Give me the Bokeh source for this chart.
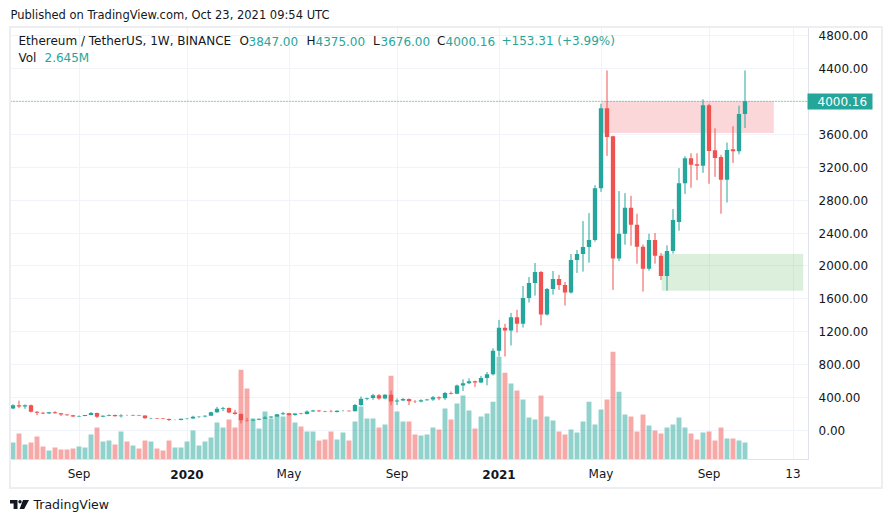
from bokeh.plotting import figure
from bokeh.models import (Range1d, FixedTicker, Span, Label, BoxAnnotation, Title,
                          ColumnDataSource, PrintfTickFormatter, LinearAxis)
from bokeh.embed import file_html
from bokeh.resources import INLINE

# ---------------- data (weekly ETH/USDT, Binance, from week of 2019-06-17) -------------
opens = [269, 307, 291, 307, 228, 216, 207, 222, 211, 195,
         186, 172, 178, 188, 212, 168, 180, 190, 174, 184,
         183, 189, 184, 151, 152, 147, 142, 128, 129, 144,
         146, 168, 170, 180, 223, 264, 273, 218, 200, 124,
         122, 131, 143, 158, 170, 197, 211, 188, 207, 200,
         231, 245, 234, 229, 225, 241, 242, 236, 312, 386,
         395, 428, 390, 435, 353, 365, 385, 355, 352, 369,
         378, 406, 394, 455, 447, 549, 575, 600, 583, 640,
         685, 970, 1250, 1216, 1378, 1297, 1612, 1794, 1927, 1410,
         1721, 1842, 1770, 1677, 2073, 2145, 2230, 2315, 2945, 3915,
         3575, 2089, 2392, 2707, 2501, 2234, 1967, 2315, 2125, 1879,
         2182, 2533, 3006, 3309, 3236, 3216, 3951, 3406, 3325, 3046,
         3418, 3394, 3847.00]
highs = [320, 364, 318, 317, 236, 227, 226, 236, 215, 199,
         191, 184, 190, 225, 218, 184, 197, 194, 198, 192,
         194, 191, 185, 156, 153, 152, 146, 135, 146, 151,
         180, 175, 185, 229, 288, 288, 281, 253, 209, 153,
         143, 145, 176, 173, 198, 227, 215, 210, 215, 245,
         252, 250, 240, 250, 245, 250, 246, 324, 415, 400,
         446, 445, 442, 488, 390, 395, 390, 370, 380, 385,
         420, 415, 470, 475, 558, 622, 635, 608, 665, 711,
         1000, 1345, 1297, 1430, 1467, 1757, 1866, 2036, 1940, 1733,
         1939, 1891, 1806, 2145, 2194, 2545, 2642, 2981, 3971, 4375,
         3583, 2909, 2885, 2852, 2634, 2260, 2392, 2400, 2157, 2250,
         2691, 3188, 3333, 3369, 3369, 4024, 3970, 3672, 3350, 3499,
         3697, 3947, 4375.00]
lows = [261, 272, 265, 220, 186, 200, 205, 205, 176, 181,
        165, 167, 174, 186, 153, 162, 175, 171, 159, 178,
        180, 179, 145, 139, 142, 140, 116, 125, 125, 135,
        143, 155, 160, 180, 215, 237, 210, 193, 87, 108,
        117, 125, 141, 150, 167, 192, 182, 180, 196, 195,
        228, 225, 224, 222, 220, 233, 232, 233, 300, 369,
        373, 375, 380, 308, 310, 360, 310, 335, 343, 364,
        360, 370, 373, 440, 442, 480, 565, 530, 577, 550,
        670, 900, 900, 1034, 1192, 1252, 1555, 1640, 1277, 1398,
        1652, 1709, 1519, 1664, 1915, 1931, 2040, 2295, 2900, 3337,
        1709, 2060, 2258, 2246, 2028, 1689, 1943, 2028, 1830, 1700,
        2150, 2428, 2876, 2950, 3042, 3131, 2998, 3083, 2634, 2771,
        3252, 3357, 3676.00]
closes = [307, 291, 307, 228, 216, 207, 222, 211, 195, 186,
          172, 178, 188, 212, 168, 180, 190, 174, 184, 183,
          189, 184, 151, 152, 147, 142, 128, 129, 144, 146,
          168, 170, 180, 223, 264, 273, 218, 200, 124, 122,
          131, 143, 158, 170, 197, 211, 188, 207, 200, 231,
          245, 234, 229, 225, 241, 242, 236, 312, 386, 395,
          428, 390, 435, 353, 365, 385, 355, 352, 369, 378,
          406, 394, 455, 447, 549, 575, 600, 583, 640, 685,
          970, 1250, 1216, 1378, 1297, 1612, 1794, 1927, 1410, 1721,
          1842, 1770, 1677, 2073, 2145, 2230, 2315, 2945, 3915, 3567,
          2089, 2392, 2707, 2501, 2234, 1967, 2315, 2125, 1879, 2182,
          2557, 3006, 3309, 3228, 3216, 3951, 3398, 3313, 3046, 3410,
          3394, 3846.85, 4000.16]
volumes_m = [2.645, 4.05, 2.33, 2.65, 3.58, 2.02, 1.40, 1.87, 1.56, 1.56,
             1.71, 2.02, 1.87, 3.89, 4.98, 2.80, 2.96, 2.33, 4.36, 2.80,
             2.18, 1.71, 2.96, 2.80, 1.71, 1.40, 2.96, 1.87, 1.87, 2.80,
             4.51, 2.18, 2.80, 3.42, 5.76, 4.98, 6.22, 4.98, 14.00, 11.05,
             6.38, 4.82, 7.47, 6.38, 6.85, 6.69, 7.16, 5.76, 5.13, 4.36,
             4.36, 2.96, 3.11, 4.36, 3.11, 4.20, 2.96, 5.91, 8.25, 6.38,
             6.38, 4.98, 5.45, 13.07, 7.47, 5.91, 5.91, 3.89, 3.73, 3.89,
             4.98, 4.67, 7.94, 6.22, 8.71, 9.96, 7.62, 4.82, 6.69, 7.16,
             9.02, 16.03, 13.54, 11.83, 10.74, 9.34, 6.54, 6.22, 9.96, 6.69,
             6.07, 4.36, 3.89, 4.67, 4.20, 5.91, 9.02, 5.45, 7.78, 9.34,
             16.80, 10.58, 7.00, 6.69, 4.36, 7.00, 5.29, 4.51, 4.05, 4.98,
             5.45, 6.54, 4.98, 4.05, 3.11, 4.20, 4.36, 2.96, 4.98, 3.27,
             3.27, 2.96, 2.645]

# time axis: week index of each label
time_tick_weeks = [11, 29, 46, 64, 81, 98, 116, 130]
time_tick_labels = ["Sep", "2020", "May", "Sep", "2021", "May", "Sep", "13"]
year_labels = ["2020", "2021"]
price_ticks = [0, 400, 800, 1200, 1600, 2000, 2400, 2800, 3200, 3600, 4000, 4400, 4800]

# drawn zones (week index / price bounds)
supply_zone = [98.1, 126.8, 3615, 4000]   # left, right, bottom, top
demand_zone = [108.1, 131.7, 1700, 2145]

# ---------------- styling ----------------
UP = "#26a69a"
DOWN = "#ef5350"
TXT = "#131722"
GRID = "#f0f3fa"
BORDER = "#e0e3eb"
FONT = "DejaVu Sans"

FL, FR, FT, FB = 10, 808, 27, 460
W, H = 892, 523

n = len(opens)
weeks = list(range(n))
colors = [UP if c >= o else DOWN for o, c in zip(opens, closes)]
src = ColumnDataSource(dict(
    x=weeks, high=highs, low=lows,
    top=[max(o, c) for o, c in zip(opens, closes)],
    bottom=[min(o, c) for o, c in zip(opens, closes)],
    color=colors, vol=volumes_m))

X0, X1 = -0.4167, 132.5833
Y0, Y1 = -351.5, 4897
p = figure(width=W, height=H,
           x_range=Range1d(X0, X1), y_range=Range1d(Y0, Y1),
           y_axis_location="right", output_backend="svg", toolbar_location=None,
           min_border_left=FL, min_border_right=W - FR, min_border_top=FT,
           min_border_bottom=H - FB,
           background_fill_color="white", border_fill_color="white",
           outline_line_color=BORDER)
p.extra_y_ranges = {"vol": Range1d(0, 67.34)}

# header title
p.title.text = "Published on TradingView.com, Oct 23, 2021 09:54 UTC"
p.title.align = "left"
p.title.vertical_align = "middle"
p.title.text_font = FONT
p.title.text_font_size = "11.5px"
p.title.text_font_style = "normal"
p.title.text_color = TXT
try:
    p.title.standoff = 10
except Exception:
    pass

# grids
p.xgrid.ticker = FixedTicker(ticks=time_tick_weeks)
p.ygrid.ticker = FixedTicker(ticks=price_ticks)
p.grid.grid_line_color = GRID
p.grid.grid_line_width = 1

# zones (under the candles)
for z, col in ((supply_zone, "#f23645"), (demand_zone, "#4caf50")):
    p.add_layout(BoxAnnotation(left=z[0], right=z[1], bottom=z[2], top=z[3],
                               fill_color=col, fill_alpha=0.2, line_color=None,
                               level="underlay"))

# volume
p.vbar(x="x", width=0.82, top="vol", bottom=0, y_range_name="vol",
       fill_color="color", fill_alpha=0.5, line_color=None, source=src)
# candles
p.segment(x0="x", y0="low", x1="x", y1="high", line_color="color", line_width=1, source=src)
p.vbar(x="x", width=0.72, top="top", bottom="bottom", fill_color="color",
       line_color=None, source=src)

# last price line
p.add_layout(Span(location=closes[-1], dimension="width", line_color=UP,
                  line_dash="1 2", line_width=1))

# axes
ya = p.yaxis[0]
ya.ticker = FixedTicker(ticks=price_ticks)
ya.formatter = PrintfTickFormatter(format="%.2f")
xa = p.xaxis[0]
xa.ticker = FixedTicker(ticks=time_tick_weeks)
xa.major_label_overrides = {w: ("" if l in year_labels else l)
                            for w, l in zip(time_tick_weeks, time_tick_labels)}
for ax in (xa, ya):
    ax.axis_line_color = BORDER
    ax.major_tick_line_color = None
    ax.minor_tick_line_color = None
    ax.major_tick_in = 0
    ax.major_tick_out = 0
    ax.minor_tick_in = 0
    ax.minor_tick_out = 0
    ax.major_label_text_font = FONT
    ax.major_label_text_font_size = "12px"
    ax.major_label_text_color = TXT
ya.major_label_standoff = 10
xa.major_label_standoff = 7

ya_w = 64    # approx width of the price scale panel

# bold year labels: second time axis whose labels sit on the first one's row
try:
    year_ticks = [w for w, l in zip(time_tick_weeks, time_tick_labels) if l in year_labels]
    year_axis = LinearAxis(ticker=FixedTicker(ticks=year_ticks),
                           major_label_overrides={w: l for w, l in zip(time_tick_weeks, time_tick_labels)
                                                  if l in year_labels},
                           axis_line_color=None, major_tick_line_color=None,
                           minor_tick_line_color=None, major_tick_in=0, major_tick_out=0,
                           minor_tick_in=0, minor_tick_out=0,
                           major_label_standoff=-14,
                           major_label_text_font=FONT, major_label_text_font_size="12px",
                           major_label_text_font_style="bold", major_label_text_color=TXT)
    p.add_layout(year_axis, "below")
except Exception:
    pass

# last price tag: an extra price scale with one thick tick + white label
try:
    tag_axis = LinearAxis(ticker=FixedTicker(ticks=[closes[-1]]),
                          formatter=PrintfTickFormatter(format="%.2f"),
                          axis_line_color=None, minor_tick_line_color=None,
                          minor_tick_in=0, minor_tick_out=0,
                          major_tick_line_color=UP, major_tick_line_width=16,
                          major_tick_in=ya_w, major_tick_out=65 - ya_w,
                          major_label_standoff=-55,
                          major_label_text_font=FONT, major_label_text_font_size="12px",
                          major_label_text_color="white")
    p.add_layout(tag_axis, "right")
except Exception:
    pass

# footer
footer = Title(text="TradingView", align="left", offset=23, vertical_align="bottom",
               text_font=FONT, text_font_size="12.5px", text_font_style="normal",
               text_color=TXT)
try:
    footer.standoff = 23
except Exception:
    pass
p.add_layout(footer, "below")


# legend inside the pane (page pixel -> screen units relative to frame bottom-left)
def lab(text, px, py, color=TXT, size="12px", style="normal", align="left"):
    p.add_layout(Label(x=px - FL, y=FB - py, x_units="screen", y_units="screen", text=text,
                       text_align=align, text_baseline="middle", text_font=FONT,
                       text_font_size=size, text_font_style=style, text_color=color))


chg = closes[-1] - closes[-2]
pct = chg / closes[-2] * 100
lab("Ethereum / TetherUS, 1W, BINANCE", 18, 41.5)
lab("O", 239, 41.5)
lab(f"{opens[-1]:.2f}", 248, 41.5, color=UP)
lab("H", 306, 41.5)
lab(f"{highs[-1]:.2f}", 315, 41.5, color=UP)
lab("L", 372.5, 41.5)
lab(f"{lows[-1]:.2f}", 380, 41.5, color=UP)
lab("C", 436.5, 41.5)
lab(f"{closes[-1]:.2f}", 445, 41.5, color=UP)
lab(f"+{chg:.2f} (+{pct:.2f}%)", 501, 41.5, color=UP)
lab("Vol", 18, 58)
lab(f"{volumes_m[-1]:.3f}M", 44, 58, color=UP)

# outer frame of the widget + logo mark (pure decoration, via CSS)
try:
    from bokeh.models import InlineStyleSheet
    logo_poly = ("0px 0px, 7.5px 0px, 10px 0px, 11.24px 0.51px, 11.75px 1.75px, "
                 "11.24px 2.99px, 10px 3.5px, 8.76px 2.99px, 8.25px 1.75px, "
                 "8.76px 0.51px, 10px 0px, 13px 0px, 19px 0px, 14.2px 9px, 9.6px 9px, "
                 "13px 0px, 7.5px 0px, 7.5px 9px, 3.6px 9px, 3.6px 3.6px, 0px 3.6px")
    css = (":host { position: relative; }"
           ":host::after { content: ''; position: absolute; left: 9px; top: 26px;"
           " width: 874px; height: 463px; box-sizing: border-box;"
           " border: 2px solid #eceef2; pointer-events: none; }"
           ":host::before { content: ''; position: absolute; left: 10px; top: 500px;"
           " width: 19px; height: 9px; background: #131722; pointer-events: none;"
           " clip-path: polygon(" + logo_poly + "); z-index: 5; }")
    p.stylesheets = [InlineStyleSheet(css=css)]
except Exception:
    pass

open("out.html", "w").write(file_html(p, INLINE))
